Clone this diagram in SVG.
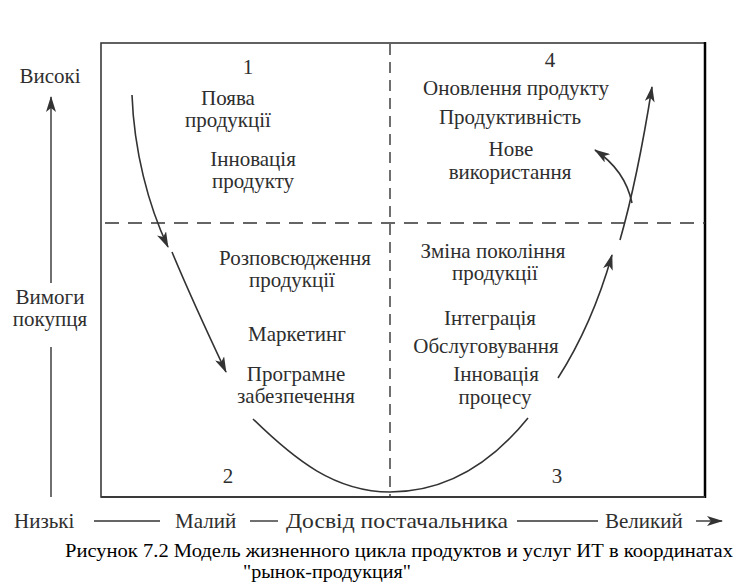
<svg xmlns="http://www.w3.org/2000/svg" width="743" height="586" viewBox="0 0 743 586">
<style>
  .t { font-family: "Liberation Serif", "DejaVu Serif", "Noto Serif", "FreeSerif", "Tinos", "Times New Roman", serif; font-size: 21px; fill: #2e2e2e; text-anchor: middle; }
  .ts { font-family: "Liberation Serif", "DejaVu Serif", "Noto Serif", "FreeSerif", "Tinos", "Times New Roman", serif; font-size: 21px; fill: #2e2e2e; text-anchor: start; }
  .cap { font-family: "Liberation Serif", "DejaVu Serif", "Noto Serif", "FreeSerif", "Tinos", "Times New Roman", serif; font-size: 19px; fill: #000; }
  .frame { fill: none; stroke: #3a3a3a; stroke-width: 1.6; }
  .dashh { stroke: #333; stroke-width: 1.4; stroke-dasharray: 14 9; fill: none; }
  .dashv { stroke: #333; stroke-width: 1.4; stroke-dasharray: 11 7; fill: none; }
  .curve { fill: none; stroke: #333; stroke-width: 1.6; }
  .axis { stroke: #333; stroke-width: 1.4; fill: none; }
</style>
<defs>
  <marker id="ah" viewBox="0 0 16 10" refX="15" refY="5" markerWidth="16" markerHeight="10" orient="auto" markerUnits="userSpaceOnUse">
    <path d="M0,0 L16,5 L0,10 L4,5 z" fill="#333"/>
  </marker>
</defs>
<rect width="743" height="586" fill="#fff"/>

<g id="frame">
  <rect class="frame" x="101" y="43" width="604" height="454"/>
  <line x1="705" y1="42" x2="705" y2="498" stroke="#000" stroke-width="2.5"/>
  <line x1="101" y1="497" x2="705" y2="497" stroke="#3a3a3a" stroke-width="2"/>
  <line class="dashh" x1="105" y1="223" x2="705" y2="223"/>
  <line class="dashv" x1="390" y1="44" x2="390" y2="496"/>
</g>

<g id="quadrant1">
  <text class="t" x="248" y="74">1</text>
  <text class="t" x="228" y="105">Поява</text>
  <text class="t" x="228" y="127">продукції</text>
  <text class="t" x="253" y="166">Інновація</text>
  <text class="t" x="253" y="188">продукту</text>
</g>

<g id="quadrant2">
  <text class="t" x="295" y="265">Розповсюдження</text>
  <text class="t" x="292" y="287">продукції</text>
  <text class="t" x="297" y="341">Маркетинг</text>
  <text class="t" x="296" y="381">Програмне</text>
  <text class="t" x="296" y="403">забезпечення</text>
  <text class="t" x="228" y="483">2</text>
</g>

<g id="quadrant3">
  <text class="t" x="493" y="258">Зміна покоління</text>
  <text class="t" x="495" y="280">продукції</text>
  <text class="t" x="490" y="325">Інтеграція</text>
  <text class="t" x="486" y="353">Обслуговування</text>
  <text class="t" x="496" y="381">Інновація</text>
  <text class="t" x="495" y="404">процесу</text>
  <text class="t" x="557" y="483">3</text>
</g>

<g id="quadrant4">
  <text class="t" x="550" y="67">4</text>
  <text class="t" x="516" y="95">Оновлення продукту</text>
  <text class="t" x="510" y="124">Продуктивність</text>
  <text class="t" x="511" y="156">Нове</text>
  <text class="t" x="510" y="179">використання</text>
</g>

<g id="connectors">
  <path class="curve" d="M132,95 C134,150 148,205 168,247" marker-end="url(#ah)"/>
  <path class="curve" d="M172,252 Q192,300 226,372" marker-end="url(#ah)"/>
  <path class="curve" d="M253,419 C295,460 335,492 390,492 C445,492 490,465 528,418"/>
  <path class="curve" d="M558,378 Q592,325 612,255" marker-end="url(#ah)"/>
  <path class="curve" d="M620,240 C630,205 642,150 652,87" marker-end="url(#ah)"/>
  <path class="curve" d="M632,203 Q625,170 595,150" marker-end="url(#ah)"/>
</g>

<g id="y-axis">
  <text class="t" x="50" y="83">Високі</text>
  <line class="axis" x1="51" y1="283" x2="51" y2="97" marker-end="url(#ah)"/>
  <text class="t" x="50" y="304">Вимоги</text>
  <text class="t" x="50" y="326">покупця</text>
  <line class="axis" x1="51" y1="347" x2="51" y2="497"/>
</g>

<g id="x-axis">
  <text class="ts" x="14" y="528">Низькі</text>
  <line class="axis" x1="94" y1="521" x2="160" y2="521"/>
  <text class="ts" x="175" y="528">Малий</text>
  <line class="axis" x1="250" y1="521" x2="278" y2="521"/>
  <text class="ts" x="286" y="528" textLength="222" lengthAdjust="spacingAndGlyphs">Досвід постачальника</text>
  <line class="axis" x1="517" y1="521" x2="598" y2="521"/>
  <text class="ts" x="605" y="528">Великий</text>
  <line class="axis" x1="696" y1="521" x2="722" y2="521" marker-end="url(#ah)"/>
</g>

<g id="caption">
  <text class="cap" x="65" y="557" textLength="668" lengthAdjust="spacingAndGlyphs">Рисунок 7.2 Модель жизненного цикла продуктов и услуг ИТ в координатах</text>
  <text class="cap" x="243" y="578" textLength="168" lengthAdjust="spacingAndGlyphs">"рынок-продукция"</text>
</g>
</svg>
